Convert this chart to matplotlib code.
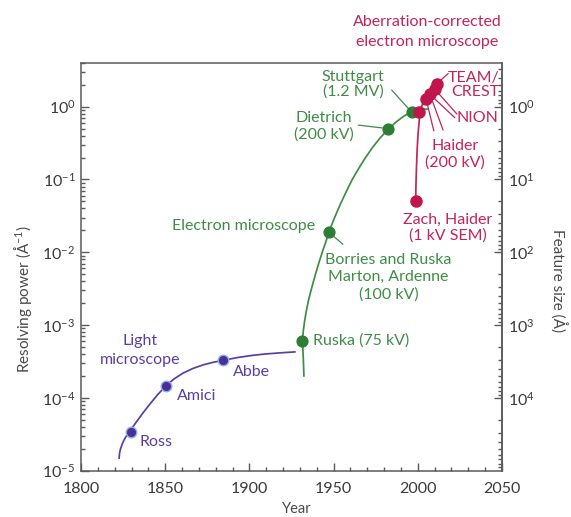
import matplotlib
matplotlib.use("Agg")
import matplotlib.pyplot as plt
from matplotlib.ticker import (FixedLocator, LogLocator, LogFormatterMathtext,
                               MultipleLocator, NullFormatter)

plt.rcParams['font.family'] = ['Lato', 'DejaVu Sans']
plt.rcParams['mathtext.default'] = 'regular'

# ---- Light microscope -------------------------------------------------------
light_curve_year = [1822.6, 1822.9, 1823.5, 1824.4, 1825.5, 1827.0, 1829.1,
                    1832.7, 1836.8, 1841.0, 1845.7, 1850.5, 1855.2, 1860.6,
                    1866.5, 1872.5, 1878.4, 1884.5, 1892.8, 1901.1, 1909.4,
                    1918.4, 1927.5]
light_curve_res = [1.45e-5, 1.75e-5, 2.00e-5, 2.30e-5, 2.63e-5, 3.01e-5,
                   3.51e-5, 4.61e-5, 6.22e-5, 8.27e-5, 1.12e-4, 1.47e-4,
                   1.82e-4, 2.19e-4, 2.54e-4, 2.84e-4, 3.08e-4, 3.28e-4,
                   3.58e-4, 3.82e-4, 4.01e-4, 4.16e-4, 4.29e-4]
light_names = ['Ross', 'Amici', 'Abbe']
light_year = [1829.5, 1850.3, 1884.5]
light_res = [3.4e-5, 1.47e-4, 3.3e-4]

# ---- Electron microscope ----------------------------------------------------
electron_curve_year = [1932.4, 1932.0, 1931.5, 1932.0, 1932.8, 1933.8, 1935.0,
                       1936.5, 1938.1, 1939.8, 1941.6, 1943.5, 1945.6, 1947.6,
                       1950.6, 1953.8, 1957.3, 1960.9, 1965.0, 1969.2, 1973.3,
                       1977.6, 1982.2, 1987.1, 1991.5, 1996.0, 2001.0, 2006.1]
electron_curve_res = [1.95e-4, 3.53e-4, 6.05e-4, 8.30e-4, 1.14e-3, 1.56e-3,
                      2.14e-3, 2.94e-3, 4.03e-3, 5.54e-3, 7.60e-3, 1.04e-2,
                      1.44e-2, 2.01e-2, 3.00e-2, 4.47e-2, 6.65e-2, 9.84e-2,
                      0.143, 0.204, 0.279, 0.372, 0.484, 0.616, 0.736, 0.846,
                      0.912, 0.930]
electron_names = ['Ruska (75 kV)', 'Borries and Ruska\nMarton, Ardenne\n(100 kV)',
                  'Dietrich\n(200 kV)', 'Stuttgart\n(1.2 MV)']
electron_year = [1931.5, 1947.3, 1982.2, 1996.3]
electron_res = [6.05e-4, 1.88e-2, 0.50, 0.845]

# ---- Aberration-corrected electron microscope -------------------------------
aberr_curve_year = [1998.75, 1998.9, 1999.2, 1999.6, 2000.2, 2001.0, 2002.2,
                    2003.7, 2005.8, 2008.1, 2010.2, 2011.7]
aberr_curve_res = [0.05, 0.0841, 0.144, 0.254, 0.436, 0.700, 0.991, 1.24,
                   1.45, 1.64, 1.84, 2.05]
aberr_year = [1998.7, 2000.9, 2004.9, 2007.2, 2010.2, 2011.2]
aberr_res = [0.05, 0.84, 1.28, 1.48, 1.73, 2.05]

year_ticks = [1800, 1850, 1900, 1950, 2000, 2050]
res_ticks = [1e-5, 1e-4, 1e-3, 1e-2, 1e-1, 1e0]
size_ticks = [1e0, 1e1, 1e2, 1e3, 1e4]

PURPLE = '#5a3fa3'
PURPLE_DOT = '#4a2f98'
GREEN = '#3f8c46'
GREEN_DOT = '#2e7d36'
RED = '#c42457'
RED_DOT = '#c0164c'
AXIS = '#5a5a5a'
TICKTXT = '#3a3a3a'
LABEL_FS = 11.5

fig = plt.figure(figsize=(5.71, 5.17), dpi=100)
ax = fig.add_axes([81 / 571, 1 - 470.7 / 517, 421 / 571, 408 / 517])
ax.set_yscale('log')
ax.set_xlim(1800, 2050)
ax.set_ylim(1e-5, 4.02)

# curves
ax.plot(light_curve_year, light_curve_res, color=PURPLE, lw=1.25, zorder=2,
        solid_capstyle='butt', solid_joinstyle='round')
ax.plot(electron_curve_year, electron_curve_res, color=GREEN, lw=1.25, zorder=2,
        solid_capstyle='butt', solid_joinstyle='round')
ax.plot(aberr_curve_year, aberr_curve_res, color=RED, lw=1.25, zorder=3,
        solid_capstyle='butt', solid_joinstyle='round')

# points
ax.plot(light_year, light_res, 'o', ms=7.6, color=PURPLE_DOT,
        mec='#8fb2e6', mew=1.0, zorder=4)
ax.plot(electron_year, electron_res, 'o', ms=7.8, color=GREEN_DOT,
        mec=GREEN_DOT, zorder=4)
ax.plot(aberr_year, aberr_res, 'o', ms=8.0, color=RED_DOT, mec=RED_DOT,
        zorder=5)

tf = dict(transform=ax.transAxes, fontsize=LABEL_FS)

# light microscope labels
ax.text(0.140, 0.294, 'Light\nmicroscope', color=PURPLE, ha='center',
        va='center', linespacing=1.42, **tf)
for name, fx, fy in zip(light_names, [0.140, 0.227, 0.362],
                        [0.071, 0.184, 0.243]):
    ax.text(fx, fy, name, color=PURPLE, ha='left', va='center', **tf)

# electron microscope labels
ax.text(0.387, 0.600, 'Electron microscope', color=GREEN, ha='center',
        va='center', **tf)
ax.text(0.552, 0.318, electron_names[0], color=GREEN, ha='left', va='center', **tf)
ax.text(0.730, 0.474, electron_names[1], color=GREEN, ha='center', va='center',
        linespacing=1.3, **tf)
ax.text(0.577, 0.844, electron_names[2], color=GREEN, ha='center', va='center',
        linespacing=1.15, **tf)
ax.text(0.646, 0.948, electron_names[3], color=GREEN, ha='center', va='center',
        linespacing=1.03, **tf)

# aberration-corrected labels
ax.text(0.822, 1.076, 'Aberration-corrected\nelectron microscope', color=RED,
        ha='center', va='center', linespacing=1.52, **tf)
ax.text(0.872, 0.596, 'Zach, Haider\n(1 kV SEM)', color=RED, ha='center',
        va='center', linespacing=1.12, **tf)
ax.text(0.888, 0.775, 'Haider\n(200 kV)', color=RED, ha='center', va='center',
        linespacing=1.25, **tf)
ax.text(0.942, 0.864, 'NION', color=RED, ha='center', va='center', **tf)
ax.text(0.993, 0.946, 'TEAM/\nCREST', color=RED, ha='right', va='center',
        linespacing=1.03, **tf)


def leader(year, res, fx, fy, color, shrink=0.0):
    ax.annotate('', xy=(year, res), xycoords='data', xytext=(fx, fy),
                textcoords='axes fraction',
                arrowprops=dict(arrowstyle='-', color=color, lw=0.9,
                                shrinkA=0, shrinkB=shrink), zorder=1)


leader(electron_year[3], electron_res[3], 0.738, 0.933, GREEN, 3)
leader(electron_year[2], electron_res[2], 0.659, 0.847, GREEN, 4)
leader(electron_year[1], electron_res[1], 0.622, 0.555, GREEN, 4)
leader(aberr_year[5], aberr_res[5], 0.872, 0.9735, RED, 0)
leader(aberr_year[3], aberr_res[3], 0.888, 0.865, RED, 0)
leader(aberr_year[4], aberr_res[4], 0.893, 0.874, RED, 0)
leader(aberr_year[2], aberr_res[2], 0.838, 0.833, RED, 0)
leader(aberr_year[3], aberr_res[3], 0.860, 0.835, RED, 0)

# axes styling
for sp in ax.spines.values():
    sp.set_color(AXIS)
    sp.set_linewidth(1.1)
ax.xaxis.set_major_locator(FixedLocator(year_ticks))
ax.xaxis.set_minor_locator(MultipleLocator(10))
ax.yaxis.set_major_locator(FixedLocator(res_ticks))
ax.yaxis.set_major_formatter(LogFormatterMathtext())
ax.yaxis.set_minor_locator(LogLocator(base=10, subs=range(2, 10), numticks=20))
ax.yaxis.set_minor_formatter(NullFormatter())
ax.tick_params(which='both', direction='in', color=AXIS, width=1.0,
               labelcolor=TICKTXT, labelsize=11.5, top=False, right=False)
ax.tick_params(which='major', length=5.5)
ax.tick_params(which='minor', length=3.0)
ax.tick_params(axis='y', which='major', pad=4)
ax.tick_params(axis='x', which='major', pad=8)

sec = ax.secondary_yaxis('right', functions=(lambda v: 1.0 / v,
                                             lambda v: 1.0 / v))
sec.yaxis.set_major_locator(FixedLocator(size_ticks))
sec.yaxis.set_major_formatter(LogFormatterMathtext())
sec.yaxis.set_minor_locator(LogLocator(base=10, subs=range(2, 10), numticks=20))
sec.yaxis.set_minor_formatter(NullFormatter())
sec.tick_params(which='both', direction='in', color=AXIS, width=1.0,
                labelcolor=TICKTXT, labelsize=11.5)
sec.tick_params(which='major', length=5.5, pad=4)
sec.tick_params(which='minor', length=3.0)
sec.spines['right'].set_color(AXIS)
sec.spines['right'].set_linewidth(1.1)

fig.text(297 / 571, 1 - 509 / 517, 'Year', ha='center', va='center',
         fontsize=10.5, color='#4a4a4a')
fig.text(23 / 571, 1 - 299 / 517, 'Resolving power (Å$^{-1}$)', rotation=90,
         ha='center', va='center', fontsize=11, color='#4a4a4a')
fig.text(558 / 571, 1 - 281 / 517, 'Feature size (Å)', rotation=-90,
         ha='center', va='center', fontsize=11, color='#4a4a4a')

fig.savefig('out.png', dpi=100)
